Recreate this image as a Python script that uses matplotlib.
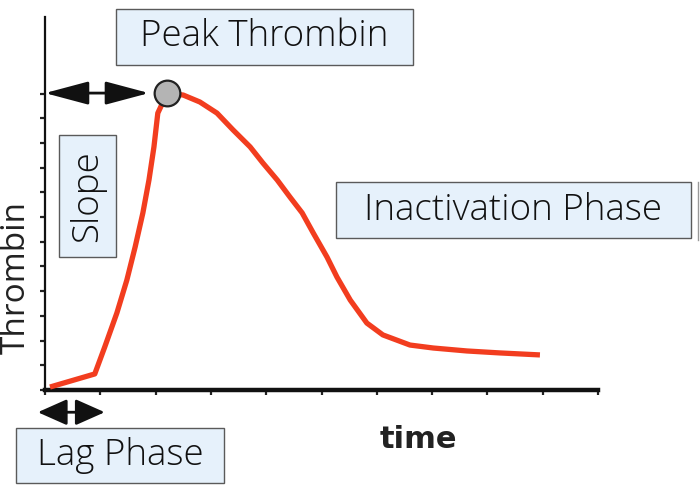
import numpy as np
import matplotlib
matplotlib.use("Agg")
import matplotlib.pyplot as plt
from matplotlib.patches import Rectangle
from matplotlib.lines import Line2D

plt.rcParams['font.family'] = ['Open Sans', 'DejaVu Sans']

# thrombin generation curve (arbitrary units)
time = [0.09, 0.90, 1.08, 1.30, 1.48, 1.63, 1.77, 1.88, 1.97, 2.04, 2.21,
        2.50, 2.80, 3.11, 3.40, 3.71, 3.94, 4.20, 4.43, 4.65, 4.85, 5.10,
        5.28, 5.52, 5.82, 6.11, 6.60, 7.02, 7.63, 8.23, 8.95]
thrombin = [0.12, 0.65, 1.74, 3.12, 4.45, 5.79, 7.17, 8.50, 9.84, 11.21, 12.02,
            11.94, 11.66, 11.21, 10.53, 9.84, 9.19, 8.50, 7.81, 7.17, 6.36, 5.38,
            4.57, 3.64, 2.71, 2.23, 1.82, 1.70, 1.58, 1.50, 1.42]
xticks = list(range(0, 11))
yticks = list(range(0, 13))

W, H = 700, 488
fig = plt.figure(figsize=(7, 4.88), dpi=100)
ax = fig.add_axes([45 / W, 1 - 390 / H, (598 - 45) / W, (390 - 17) / H])

ax.plot(time, thrombin, color='#f23d1f', lw=3.8, solid_joinstyle='round',
        solid_capstyle='butt', zorder=3)
i_peak = int(np.argmax(thrombin))
ax.plot(time[i_peak], thrombin[i_peak], 'o', ms=18.5, mfc='#b4b4b4', mec='#222222',
        mew=1.6, zorder=4)

ax.set_xlim(0, 10)
ax.set_ylim(0, 15.1)
ax.set_xticks(xticks)
ax.set_yticks(yticks)
ax.set_xticklabels([])
ax.set_yticklabels([])
ax.tick_params(direction='out', length=3.5, width=1.6, color='#222222')
for s in ['top', 'right']:
    ax.spines[s].set_visible(False)
ax.spines['left'].set_linewidth(1.6)
ax.spines['bottom'].set_linewidth(3.2)
ax.spines['left'].set_color('#111111')
ax.spines['bottom'].set_color('#111111')

# arrows
ax.annotate('', xy=(0, thrombin[i_peak]), xytext=(time[i_peak] - 0.33, thrombin[i_peak]),
            arrowprops=dict(arrowstyle='<|-|>,head_length=1.35,head_width=0.36',
                            mutation_scale=20, color='#111111', lw=2,
                            shrinkA=0, shrinkB=0),
            annotation_clip=False)
ax.annotate('', xy=(-0.13, -0.9), xytext=(1.08, -0.9),
            arrowprops=dict(arrowstyle='<|-|>,head_length=0.9,head_width=0.4',
                            mutation_scale=20, color='#111111', lw=2,
                            shrinkA=0, shrinkB=0),
            annotation_clip=False)


def box(x0, y0, x1, y1, text, rot=0):
    fig.patches.append(Rectangle((x0 / W, 1 - y1 / H), (x1 - x0) / W, (y1 - y0) / H,
                                 transform=fig.transFigure, facecolor='#e6f1fb',
                                 edgecolor='#5a5a5a', lw=1.0, zorder=5))
    fig.text((x0 + x1) / 2 / W, 1 - (y0 + y1) / 2 / H, text, ha='center',
             va='center', fontsize=26.5, fontweight='light', color='#111111',
             rotation=rot, zorder=6)


box(116, 9, 413, 65, 'Peak Thrombin')
box(59, 135, 116, 257, 'Slope', rot=90)
box(16, 428, 224, 483, 'Lag Phase')
box(336, 182, 691, 238, 'Inactivation Phase')
fig.lines.append(Line2D([698 / W, 698 / W], [1 - 182 / H, 1 - 240 / H],
                        transform=fig.transFigure, color='#999999', lw=1))

fig.text(16 / W, 1 - 278 / H, 'Thrombin', rotation=90, ha='center', va='center',
         fontsize=24, color='#222222')
fig.text(418 / W, 1 - 440 / H, 'time', ha='center', va='center', fontsize=22,
         fontweight='bold', color='#222222', family=['DejaVu Sans'])

fig.savefig('out.png', dpi=100)
